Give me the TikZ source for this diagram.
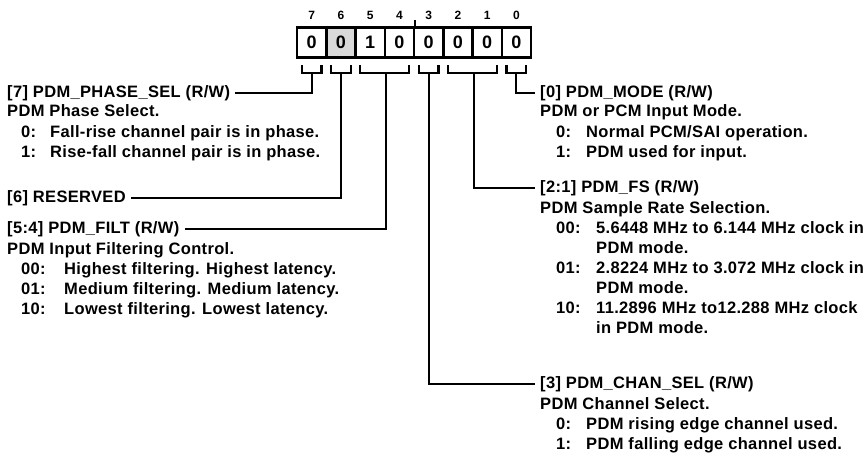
\documentclass[tikz,border=0pt]{standalone}
\usepackage{fontspec}
\setmainfont{Liberation Sans}[LetterSpace=2]
\usetikzlibrary{calc}
\newcommand\cdA[2]{\makebox[29pt][l]{#1}#2}
\newcommand\cdB[2]{\makebox[43pt][l]{#1}#2}
\newcommand\cdC[2]{\makebox[30pt][l]{#1}#2}
\newcommand\cdD[2]{\makebox[40pt][l]{#1}#2}
\begin{document}
\begin{tikzpicture}[x=1pt,y=-1pt,
  txt/.style={anchor=base west,inner sep=0pt,font=\fontsize{16.5}{20}\selectfont\bfseries},
  head/.style={txt},
  cell/.style={draw,line width=2.5pt,minimum width=29.25pt,minimum height=30pt,inner sep=0pt,font=\fontsize{18}{20}\selectfont\bfseries},
  bitnum/.style={inner sep=0pt,font=\fontsize{12}{14}\selectfont\bfseries},
  brk/.style={line width=2.2pt},
  conn/.style={line width=2.2pt,shorten >=5pt}]
\useasboundingbox (0,0) rectangle (865,460);
% register cells
\node[cell] (c7) at (311.625,42.5) {0};
\node[cell,fill=gray!30] (c6) at (340.875,42.5) {0};
\node[cell] (c5) at (370.125,42.5) {1};
\node[cell] (c4) at (399.375,42.5) {0};
\node[cell] (c3) at (428.625,42.5) {0};
\node[cell] (c2) at (457.875,42.5) {0};
\node[cell] (c1) at (487.125,42.5) {0};
\node[cell] (c0) at (516.375,42.5) {0};
\foreach \b in {7,6,5,4,3,2,1,0}{
  \node[bitnum] (n\b) at ($(c\b.north)+(0,-10.5)$) {\b};
}
\draw[line width=1.6pt] (c4.north east) -- ++(0,-6.5);
% brackets
\draw[brk] ($(c7.south west)+(6,6.5)$) |- ($(c7.south east)+(-6,14.5)$) -- ($(c7.south east)+(-6,6.5)$);
\draw[brk] ($(c6.south west)+(6,6.5)$) |- ($(c6.south east)+(-6,14.5)$) -- ($(c6.south east)+(-6,6.5)$);
\draw[brk] ($(c5.south west)+(6,6.5)$) |- ($(c4.south east)+(-6,14.5)$) -- ($(c4.south east)+(-6,6.5)$);
\draw[brk] ($(c3.south west)+(6,6.5)$) |- ($(c3.south east)+(-6,14.5)$) -- ($(c3.south east)+(-6,6.5)$);
\draw[brk] ($(c2.south west)+(6,6.5)$) |- ($(c1.south east)+(-6,14.5)$) -- ($(c1.south east)+(-6,6.5)$);
\draw[brk] ($(c0.south west)+(6,6.5)$) |- ($(c0.south east)+(-6,14.5)$) -- ($(c0.south east)+(-6,6.5)$);
\coordinate (s7) at ($(c7.south)+(0,14.5)$);
\coordinate (s6) at ($(c6.south)+(0,14.5)$);
\coordinate (s54) at ($(c5.south east)+(0,14.5)$);
\coordinate (s3) at ($(c3.south)+(0,14.5)$);
\coordinate (s21) at ($(c2.south east)+(0,14.5)$);
\coordinate (s0) at ($(c0.south)+(0,14.5)$);
% left column
\node[head] (h7) at (7,97) {[7] PDM\_PHASE\_SEL (R/W)};
\node[txt] (l1) at (7,117) {PDM Phase Select.};
\node[txt] (l2) at (21,137) {\cdA{0:}{Fall-rise channel pair is in phase.}};
\node[txt] (l3) at (21,157) {\cdA{1:}{Rise-fall channel pair is in phase.}};
\node[head] (h6) at (7,202) {[6] RESERVED};
\node[head] (h54) at (7,233) {[5:4] PDM\_FILT (R/W)};
\node[txt] (l4) at (7,254) {PDM Input Filtering Control.};
\node[txt] (l5) at (21,274) {\cdB{00:}{Highest filtering. Highest latency.}};
\node[txt] (l6) at (21,294) {\cdB{01:}{Medium filtering. Medium latency.}};
\node[txt] (l7) at (21,314) {\cdB{10:}{Lowest filtering. Lowest latency.}};
% right column
\node[head] (h0) at (540,97) {[0] PDM\_MODE (R/W)};
\node[txt] (r1) at (540,117) {PDM or PCM Input Mode.};
\node[txt] (r2) at (556,137) {\cdC{0:}{Normal PCM/SAI operation.}};
\node[txt] (r3) at (556,157) {\cdC{1:}{PDM used for input.}};
\node[head] (h21) at (540,192) {[2:1] PDM\_FS (R/W)};
\node[txt] (r4) at (540,213) {PDM Sample Rate Selection.};
\node[txt] (r5) at (556,233) {\cdD{00:}{5.6448 MHz to 6.144 MHz clock in}};
\node[txt] (r6) at (596,253) {PDM mode.};
\node[txt] (r7) at (556,273) {\cdD{01:}{2.8224 MHz to 3.072 MHz clock in}};
\node[txt] (r8) at (596,293) {PDM mode.};
\node[txt] (r9) at (556,313) {\cdD{10:}{11.2896 MHz to12.288 MHz clock}};
\node[txt] (r10) at (596,333) {in PDM mode.};
\node[head] (h3) at (540,388) {[3] PDM\_CHAN\_SEL (R/W)};
\node[txt] (r11) at (540,409) {PDM Channel Select.};
\node[txt] (r12) at (556,429) {\cdC{0:}{PDM rising edge channel used.}};
\node[txt] (r13) at (556,449) {\cdC{1:}{PDM falling edge channel used.}};
% connectors
\draw[conn] (s7) |- (h7.east);
\draw[conn] (s6) |- (h6.east);
\draw[conn] (s54) |- (h54.east);
\draw[conn] (s3) |- (h3.west);
\draw[conn] (s21) |- (h21.west);
\draw[conn] (s0) |- (h0.west);
\end{tikzpicture}
\end{document}
